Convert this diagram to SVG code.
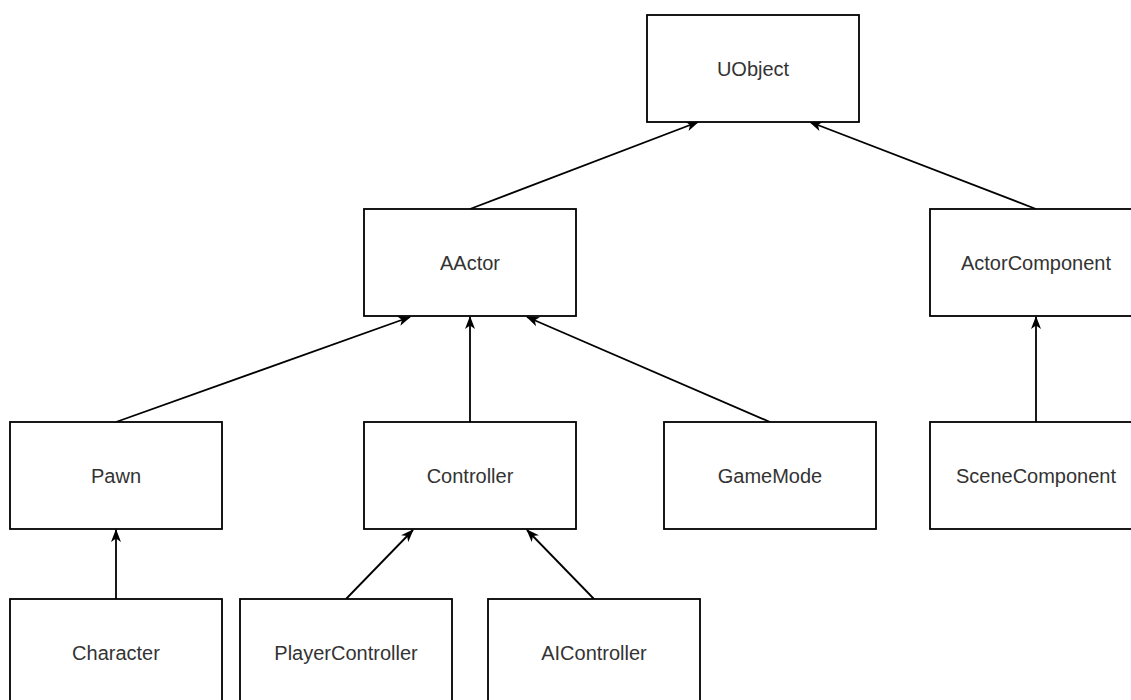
<svg xmlns="http://www.w3.org/2000/svg" width="1131" height="700" viewBox="0 0 1131 700">
<style>
.box{fill:#fff;stroke:#000;stroke-width:1.8}
.lbl{font-family:"Liberation Sans",Arial,sans-serif;font-size:20px;fill:#333;text-anchor:middle;dominant-baseline:central}
.edge{stroke:#000;stroke-width:1.8;fill:none;marker-end:url(#arr)}
</style>
<defs>
<marker id="arr" viewBox="0 0 13 11" refX="12" refY="5.5" markerWidth="13" markerHeight="11" markerUnits="userSpaceOnUse" orient="auto">
<path d="M0,0.5 L13,5.5 L0,10.5 L3.5,5.5 Z" fill="#000"/>
</marker>
</defs>
<rect width="1131" height="700" fill="#fff"/>
<g id="connectors">
<line class="edge" x1="470" y1="209" x2="698" y2="122"/>
<line class="edge" x1="1036" y1="209" x2="810" y2="122"/>
<line class="edge" x1="116" y1="422" x2="410" y2="317"/>
<line class="edge" x1="470" y1="422" x2="470" y2="317"/>
<line class="edge" x1="770" y1="422" x2="527" y2="317"/>
<line class="edge" x1="1036" y1="422" x2="1036" y2="317"/>
<line class="edge" x1="116" y1="599" x2="116" y2="530"/>
<line class="edge" x1="346" y1="599" x2="413" y2="530"/>
<line class="edge" x1="594" y1="599" x2="527" y2="530"/>
</g>
<g id="UObject"><rect class="box" x="647" y="15" width="212" height="107"/><text class="lbl" x="753" y="68.5">UObject</text></g>
<g id="AActor"><rect class="box" x="364" y="209" width="212" height="107"/><text class="lbl" x="470" y="262.5">AActor</text></g>
<g id="ActorComponent"><rect class="box" x="930" y="209" width="212" height="107"/><text class="lbl" x="1036" y="262.5">ActorComponent</text></g>
<g id="Pawn"><rect class="box" x="10" y="422" width="212" height="107"/><text class="lbl" x="116" y="475.5">Pawn</text></g>
<g id="Controller"><rect class="box" x="364" y="422" width="212" height="107"/><text class="lbl" x="470" y="475.5">Controller</text></g>
<g id="GameMode"><rect class="box" x="664" y="422" width="212" height="107"/><text class="lbl" x="770" y="475.5">GameMode</text></g>
<g id="SceneComponent"><rect class="box" x="930" y="422" width="212" height="107"/><text class="lbl" x="1036" y="475.5">SceneComponent</text></g>
<g id="Character"><rect class="box" x="10" y="599" width="212" height="107"/><text class="lbl" x="116" y="652.5">Character</text></g>
<g id="PlayerController"><rect class="box" x="240" y="599" width="212" height="107"/><text class="lbl" x="346" y="652.5">PlayerController</text></g>
<g id="AIController"><rect class="box" x="488" y="599" width="212" height="107"/><text class="lbl" x="594" y="652.5">AIController</text></g>
</svg>
